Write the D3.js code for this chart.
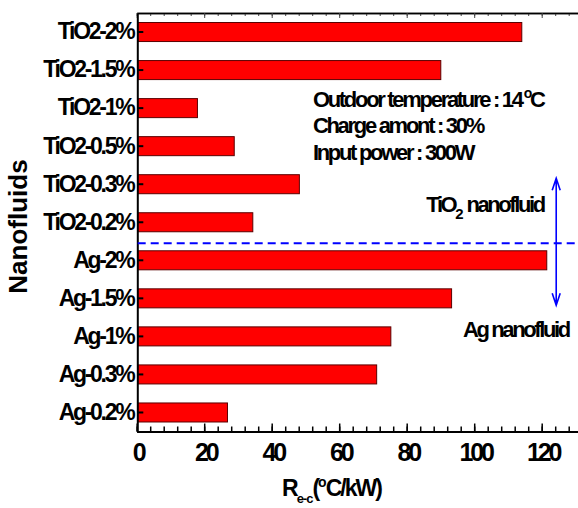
<!DOCTYPE html>
<html><head><meta charset="utf-8">
<script src="https://cdn.jsdelivr.net/npm/d3@7"></script>
<style>
body{margin:0;background:#fff}
svg{display:block}
text{font-family:'Liberation Sans',Arial,Helvetica,sans-serif;font-weight:bold;fill:#000}
</style>
</head><body>
<svg id="c" width="578" height="508"></svg>
<script>
// ---- data ----
const categories = ["TiO2-2%","TiO2-1.5%","TiO2-1%","TiO2-0.5%","TiO2-0.3%","TiO2-0.2%","Ag-2%","Ag-1.5%","Ag-1%","Ag-0.3%","Ag-0.2%"];
const values = [114.1, 90.1, 18.0, 28.9, 48.2, 34.4, 121.5, 93.3, 75.3, 71.1, 26.9];
const majorTicks = [0, 20, 40, 60, 80, 100, 120];
const minorTicks = [0,4,8,12,16,20,24,28,32,36,40,44,48,52,56,60,64,68,72,76,80,84,88,92,96,100,104,108,112,116,120,124,128];
const noteLines = ["Outdoor temperature : 14", "Charge amont : 30%", "Input power : 300W"];
const groupLabels = ["TiO", "Ag nanofluid"];

// ---- layout ----
const W = 578, H = 508;
const svg = d3.select("#c");
const x = d3.scaleLinear().domain([0, 131.5]).range([136.7, 136.7 + 131.5 * 3.375]);
const y = d3.scaleBand().domain(categories).range([13, 431.5]).paddingInner(0.5).paddingOuter(0.25);

// bars
svg.append("g").selectAll("rect").data(categories).join("rect")
  .attr("x", x(0) + 1)
  .attr("y", d => y(d))
  .attr("width", (d, i) => x(values[i]) - x(0) - 1)
  .attr("height", y.bandwidth())
  .attr("fill", "#ff0000")
  .attr("stroke", "#5a0000")
  .attr("stroke-width", 1);

// top axis (mirror, no labels)
const top0 = y.range()[0];
const gTopMinor = svg.append("g").attr("transform", `translate(0,${top0})`)
  .call(d3.axisTop(x).tickValues(minorTicks).tickSize(-3).tickSizeOuter(0).tickFormat(""));
const gTopMajor = svg.append("g").attr("transform", `translate(0,${top0})`)
  .call(d3.axisTop(x).tickValues(majorTicks).tickSize(-5).tickSizeOuter(0).tickFormat(""));
[gTopMinor, gTopMajor].forEach(g => {
  g.select(".domain").attr("stroke", "#000").attr("stroke-width", 1.5);
  g.selectAll(".tick line").attr("stroke", "#444").attr("stroke-width", 1);
});

// bottom axis
const bot = y.range()[1];
const gBMinor = svg.append("g").attr("transform", `translate(0,${bot})`)
  .call(d3.axisBottom(x).tickValues(minorTicks).tickSize(-5).tickSizeOuter(0).tickFormat(""));
const gBMajor = svg.append("g").attr("transform", `translate(0,${bot})`)
  .call(d3.axisBottom(x).tickValues(majorTicks).tickSize(-8).tickSizeOuter(0).tickPadding(12));
[gBMinor, gBMajor].forEach(g => {
  g.select(".domain").attr("stroke", "#000").attr("stroke-width", 2);
  g.selectAll(".tick line").attr("stroke", "#000").attr("stroke-width", 1.5);
});
gBMajor.selectAll(".tick text")
  .attr("font-size", 25).attr("font-family", null).attr("fill", "#000")
  .attr("letter-spacing", -3.1).attr("dx", 1);

// left axis
const gL = svg.append("g").attr("transform", `translate(${x(0) + 0.6},0)`)
  .call(d3.axisLeft(y).tickSize(-6).tickSizeOuter(0).tickPadding(4));
gL.select(".domain").attr("stroke", "#000").attr("stroke-width", 2);
gL.selectAll(".tick line").attr("stroke", "#000").attr("stroke-width", 2);
gL.selectAll(".tick text")
  .attr("font-size", 23).attr("font-family", null).attr("fill", "#000")
  .attr("letter-spacing", -2.3);

// separator dashed line
const ySep = y("Ag-2%") - y.step() * 0.2;
svg.append("line")
  .attr("x1", x(0) + 1).attr("x2", W)
  .attr("y1", ySep).attr("y2", ySep)
  .attr("stroke", "#0000ff").attr("stroke-width", 2)
  .attr("stroke-dasharray", "8,5");

// double arrow
const ax = x(124.3);
const aTop = y("TiO2-0.3%") + y.bandwidth() / 2 - 6;
const aBot = y("Ag-1.5%") + y.bandwidth() / 2 + 7;
const ah = 12, aw = 4;
svg.append("path")
  .attr("d", `M${ax},${aTop}V${aBot}M${ax - aw},${aTop + ah}L${ax},${aTop}L${ax + aw},${aTop + ah}M${ax - aw},${aBot - ah}L${ax},${aBot}L${ax + aw},${aBot - ah}`)
  .attr("fill", "none").attr("stroke", "#0000ff").attr("stroke-width", 1.6);

// group labels
const t1 = svg.append("text")
  .attr("x", x(85.8)).attr("y", ySep - 31.5)
  .attr("font-size", 22).attr("letter-spacing", -2.4);
t1.append("tspan").text(groupLabels[0]);
t1.append("tspan").attr("font-size", 15).attr("dy", 7).attr("letter-spacing", -1).text("2");
t1.append("tspan").attr("dy", -7).text(" nanofluid");

svg.append("text")
  .attr("x", x(96.7)).attr("y", y("Ag-1%") + y.bandwidth() / 2 + 0.5)
  .attr("font-size", 22).attr("letter-spacing", -2.4).text(groupLabels[1]);

// conditions note
const noteX = x(52.2);
const noteY = [106.5, 133, 159.5];
noteLines.forEach((s, i) => {
  const t = svg.append("text")
    .attr("x", noteX).attr("y", noteY[i])
    .attr("font-size", 22).attr("letter-spacing", -2.3);
  t.append("tspan").text(s);
  if (i === 0) {
    t.append("tspan").attr("font-size", 14).attr("dy", -9).attr("dx", 2).text("o");
    t.append("tspan").attr("dy", 9).text("C");
  }
});

// y axis title
svg.append("text")
  .attr("transform", "translate(26.5,226.5) rotate(-90)")
  .attr("text-anchor", "middle").attr("font-size", 26)
  .text("Nanofluids");

// x axis title
const xt = svg.append("text")
  .attr("x", 282).attr("y", 496)
  .attr("font-size", 23).attr("letter-spacing", -2);
xt.append("tspan").text("R");
xt.append("tspan").attr("font-size", 13).attr("letter-spacing", -1).attr("dy", 7).text("e-c");
xt.append("tspan").attr("dy", -7).text("(");
xt.append("tspan").attr("font-size", 14).attr("dy", -9).attr("letter-spacing", -1).text("o");
xt.append("tspan").attr("dy", 9).text("C/kW)");
</script>
</body></html>
